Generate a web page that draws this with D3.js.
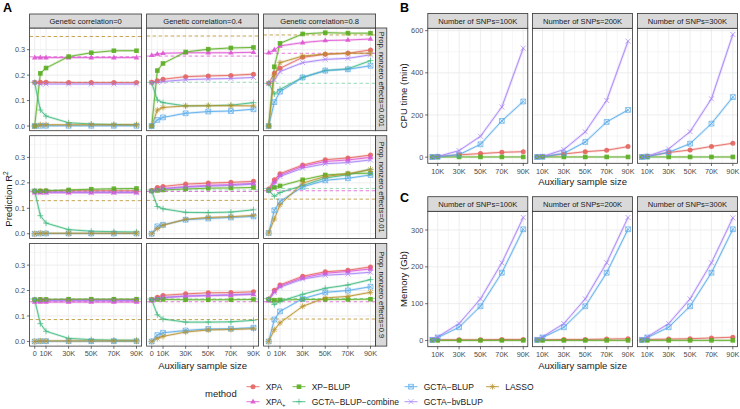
<!DOCTYPE html>
<html><head><meta charset="utf-8">
<script src="https://cdn.jsdelivr.net/npm/d3@7/dist/d3.min.js"></script>
<style>body{margin:0;background:#fff}svg{display:block;font-family:"Liberation Sans",Arial,Helvetica,sans-serif}</style>
</head><body><svg id="chart" width="740" height="409"></svg>
<script>
// ---------------- DATA ----------------
const methods = ["XPA", "XPA+", "XP\u2212BLUP", "GCTA\u2212BLUP\u2212combine", "GCTA\u2212BLUP", "GCTA\u2212bvBLUP", "LASSO"];
const geneticCorr = ["0", "0.4", "0.8"];
const propNonzero = ["0.001", "0.01", "0.9"];
const sampleSizesA = [0, 5000, 10000, 30000, 50000, 70000, 90000];
const xTicksA = [0, 10000, 30000, 50000, 70000, 90000];
const yTicksA = [0, 0.1, 0.2, 0.3];

// panel order: rows = propNonzero, cols = geneticCorr
const r2XPA = [
  [0.172,0.172,0.172,0.171,0.171,0.171,0.171],
  [0.172,0.178,0.184,0.194,0.197,0.199,0.204],
  [0.168,0.207,0.227,0.270,0.282,0.286,0.299],
  [0.168,0.168,0.168,0.169,0.169,0.169,0.169],
  [0.170,0.182,0.186,0.195,0.199,0.202,0.206],
  [0.176,0.212,0.236,0.270,0.291,0.298,0.309],
  [0.164,0.164,0.164,0.164,0.164,0.164,0.164],
  [0.164,0.174,0.181,0.187,0.191,0.192,0.195],
  [0.167,0.201,0.222,0.256,0.274,0.280,0.293]];
const r2XPAplus = [
  [0.269,0.269,0.269,0.269,0.269,0.269,0.269],
  [0.278,0.283,0.286,0.288,0.288,0.288,0.290],
  [0.288,0.299,0.315,0.328,0.336,0.338,0.342],
  [0.161,0.161,0.161,0.161,0.161,0.161,0.161],
  [0.168,0.175,0.178,0.185,0.190,0.193,0.198],
  [0.170,0.205,0.230,0.265,0.284,0.290,0.300],
  [0.155,0.155,0.155,0.155,0.155,0.155,0.155],
  [0.160,0.168,0.172,0.178,0.180,0.182,0.185],
  [0.160,0.196,0.218,0.250,0.268,0.275,0.285]];
const r2XPBLUP = [
  [0.000,0.207,0.228,0.273,0.288,0.296,0.296],
  [0.000,0.218,0.246,0.291,0.302,0.307,0.309],
  [0.000,0.233,0.325,0.362,0.367,0.365,0.365],
  [0.168,0.168,0.169,0.172,0.175,0.177,0.178],
  [0.168,0.170,0.172,0.176,0.179,0.180,0.182],
  [0.170,0.182,0.188,0.212,0.231,0.236,0.238],
  [0.164,0.165,0.165,0.166,0.166,0.166,0.166],
  [0.164,0.165,0.165,0.164,0.164,0.164,0.165],
  [0.165,0.162,0.163,0.165,0.165,0.165,0.166]];
const r2Combine = [
  [0.170,0.063,0.039,0.013,0.008,0.006,0.005],
  [0.170,0.102,0.092,0.079,0.080,0.082,0.092],
  [0.168,0.126,0.144,0.191,0.218,0.225,0.257],
  [0.168,0.071,0.042,0.016,0.010,0.008,0.007],
  [0.168,0.107,0.098,0.084,0.083,0.085,0.094],
  [0.170,0.147,0.162,0.189,0.219,0.232,0.254],
  [0.164,0.070,0.040,0.012,0.007,0.005,0.005],
  [0.164,0.105,0.088,0.076,0.076,0.077,0.083],
  [0.165,0.145,0.158,0.185,0.209,0.222,0.243]];
const r2GCTABLUP = [
  [0.000,0.001,0.001,0.001,0.001,0.001,0.001],
  [0.000,0.024,0.034,0.050,0.057,0.059,0.066],
  [0.000,0.094,0.135,0.191,0.218,0.223,0.237],
  [0.000,0.001,0.001,0.001,0.001,0.001,0.001],
  [0.000,0.029,0.035,0.055,0.060,0.064,0.068],
  [0.003,0.092,0.127,0.184,0.210,0.218,0.231],
  [0.000,0.001,0.001,0.001,0.001,0.001,0.001],
  [0.000,0.025,0.034,0.043,0.049,0.050,0.054],
  [0.000,0.086,0.118,0.168,0.193,0.200,0.215]];
const r2bvBLUP = [
  [0.170,0.165,0.165,0.165,0.165,0.165,0.165],
  [0.170,0.172,0.175,0.182,0.185,0.187,0.191],
  [0.168,0.181,0.214,0.249,0.262,0.266,0.280],
  [0.168,0.163,0.163,0.163,0.163,0.163,0.163],
  [0.168,0.172,0.176,0.183,0.187,0.190,0.195],
  [0.170,0.195,0.225,0.258,0.275,0.280,0.290],
  [0.164,0.161,0.161,0.161,0.161,0.161,0.161],
  [0.164,0.168,0.173,0.178,0.181,0.183,0.187],
  [0.165,0.192,0.213,0.245,0.260,0.265,0.272]];
const r2LASSO = [
  [0.000,0.005,0.005,0.005,0.005,0.005,0.005],
  [0.000,0.063,0.073,0.079,0.080,0.080,0.079],
  [0.000,0.200,0.249,0.275,0.283,0.286,0.286],
  [0.000,0.002,0.002,0.002,0.002,0.002,0.002],
  [0.000,0.020,0.033,0.057,0.064,0.067,0.072],
  [0.003,0.058,0.114,0.199,0.225,0.236,0.252],
  [0.000,0.002,0.002,0.002,0.002,0.002,0.002],
  [0.000,0.012,0.020,0.037,0.045,0.047,0.050],
  [0.000,0.046,0.073,0.138,0.171,0.177,0.193]];
// dashed reference lines
const refLASSO   = [0.352,0.354,0.358, 0.130,0.131,0.136, 0.086,0.086,0.088];
const refXPAplus = [0.272,0.275,0.286, 0.165,0.166,0.169, 0.156,0.156,0.156];
const refCombine = [0.172,0.172,0.168, 0.172,0.172,0.178, 0.167,0.167,0.169];

// B & C
const snpCounts = ["100K", "200K", "300K"];
const sampleSizesBC = [5000, 10000, 30000, 50000, 70000, 90000];
const xTicksBC = [10000, 30000, 50000, 70000, 90000];
const yTicksB = [0, 200, 400, 600];
const yTicksC = [0, 100, 200, 300];
const cpuXPA     = [[1,3,11,17,23,26],[2,3,15,26,33,50],[2,4,22,34,51,66]];
const cpuXPBLUP  = [[1,1,1,1,1,1],[1,1,1,1,1,1],[1,1,1,1,1,1]];
const cpuGCTABLUP= [[0.5,2,12,61,172,264],[0.5,2,18,72,167,224],[0.5,3,23,64,159,285]];
const cpuBvBLUP  = [[0.5,3,31,99,238,517],[0.5,3,36,120,269,550],[0.5,4,39,121,277,582]];
const memXPA     = [[2,2,2,2,3,3],[2,2,3,3,4,5],[2,3,4,5,7,9]];
const memXPBLUP  = [[0.5,0.5,0.5,0.5,0.5,0.5],[0.5,0.5,0.5,0.5,0.5,0.5],[0.5,0.5,0.5,0.5,0.5,0.5]];
const memGCTABLUP= [[2,8,36,93,184,302],[2,8,36,93,184,302],[2,8,36,93,184,302]];
const memBvBLUP  = [[3,10,46,113,211,334],[3,10,46,113,211,334],[3,10,46,113,211,333]];

// ---------------- STYLE ----------------
const methodColors = ["#E5655F", "#DE55D2", "#5BAE22", "#3FB97E", "#55AAEA", "#A57EF7", "#B8902A"];
const methodShapes = ["circle", "triangle", "square", "plus", "boxx", "cross", "asterisk"];

const svg = d3.select("#chart");
const TXT = "#4d4d4d", DARK = "#1a1a1a", BORDER = "#333333", GRID = "#ebebeb";
const fmtK = v => v === 0 ? "0" : (v / 1000) + "K";

function expand(lo, hi) { const d = (hi - lo) * 0.05; return [lo - d, hi + d]; }
function minors(major, dom) {
  const bd = major[1] - major[0];
  const b = major.slice();
  if (dom[0] < b[0]) b.unshift(b[0] - bd);
  if (dom[1] > b[b.length - 1]) b.push(b[b.length - 1] + bd);
  const out = [];
  for (let i = 0; i < b.length - 1; i++) { const m = (b[i] + b[i + 1]) / 2; if (m > dom[0] && m < dom[1]) out.push(m); }
  return out;
}

function drawShape(g, shape, x, y, color) {
  const sw = 0.75;
  if (shape === "circle") g.append("circle").attr("cx", x).attr("cy", y).attr("r", 2.5).attr("fill", color);
  else if (shape === "triangle") g.append("path").attr("d", `M${x},${y - 3.1}L${x + 2.8},${y + 1.8}L${x - 2.8},${y + 1.8}Z`).attr("fill", color);
  else if (shape === "square") g.append("rect").attr("x", x - 2.3).attr("y", y - 2.3).attr("width", 4.6).attr("height", 4.6).attr("fill", color);
  else if (shape === "plus") g.append("path").attr("d", `M${x - 3},${y}H${x + 3}M${x},${y - 3}V${y + 3}`).attr("stroke", color).attr("stroke-width", sw).attr("fill", "none");
  else if (shape === "boxx") g.append("path").attr("d", `M${x - 2.4},${y - 2.4}H${x + 2.4}V${y + 2.4}H${x - 2.4}ZM${x - 2.4},${y - 2.4}L${x + 2.4},${y + 2.4}M${x + 2.4},${y - 2.4}L${x - 2.4},${y + 2.4}`).attr("stroke", color).attr("stroke-width", sw).attr("fill", "none");
  else if (shape === "cross") g.append("path").attr("d", `M${x - 2.5},${y - 2.5}L${x + 2.5},${y + 2.5}M${x + 2.5},${y - 2.5}L${x - 2.5},${y + 2.5}`).attr("stroke", color).attr("stroke-width", sw).attr("fill", "none");
  else if (shape === "asterisk") g.append("path").attr("d", `M${x - 3},${y}H${x + 3}M${x},${y - 3}V${y + 3}M${x - 2.2},${y - 2.2}L${x + 2.2},${y + 2.2}M${x + 2.2},${y - 2.2}L${x - 2.2},${y + 2.2}`).attr("stroke", color).attr("stroke-width", sw).attr("fill", "none");
}

// generic panel
function drawPanel(opt) {
  const { x0, y0, w, h, xDom, yDom, xMaj, yMaj, series, refs, showX, showY, yFmt, xFmt } = opt;
  const xs = d3.scaleLinear().domain(xDom).range([x0, x0 + w]);
  const ys = d3.scaleLinear().domain(yDom).range([y0 + h, y0]);
  const g = svg.append("g");
  g.append("rect").attr("x", x0).attr("y", y0).attr("width", w).attr("height", h).attr("fill", "#fff");
  minors(xMaj, xDom).forEach(v => g.append("line").attr("x1", xs(v)).attr("x2", xs(v)).attr("y1", y0).attr("y2", y0 + h).attr("stroke", GRID).attr("stroke-width", 0.45));
  minors(yMaj, yDom).forEach(v => g.append("line").attr("y1", ys(v)).attr("y2", ys(v)).attr("x1", x0).attr("x2", x0 + w).attr("stroke", GRID).attr("stroke-width", 0.45));
  xMaj.forEach(v => g.append("line").attr("x1", xs(v)).attr("x2", xs(v)).attr("y1", y0).attr("y2", y0 + h).attr("stroke", GRID).attr("stroke-width", 0.9));
  yMaj.forEach(v => g.append("line").attr("y1", ys(v)).attr("y2", ys(v)).attr("x1", x0).attr("x2", x0 + w).attr("stroke", GRID).attr("stroke-width", 0.9));
  (refs || []).forEach(r => g.append("line").attr("x1", x0).attr("x2", x0 + w).attr("y1", ys(r.v)).attr("y2", ys(r.v))
      .attr("stroke", r.color).attr("stroke-width", 0.8).attr("stroke-dasharray", "3.5,2.5"));
  const line = d3.line().x(d => xs(d[0])).y(d => ys(d[1]));
  series.forEach(s => {
    g.append("path").datum(s.pts).attr("d", line).attr("fill", "none").attr("stroke", s.color).attr("stroke-width", 2.6).attr("stroke-opacity", 0.22);
    g.append("path").datum(s.pts).attr("d", line).attr("fill", "none").attr("stroke", s.color).attr("stroke-width", 0.85);
  });
  series.forEach(s => { const pg = g.append("g").attr("opacity", 0.9); s.pts.forEach(p => drawShape(pg, s.shape, xs(p[0]), ys(p[1]), s.color)); });
  g.append("rect").attr("x", x0).attr("y", y0).attr("width", w).attr("height", h).attr("fill", "none").attr("stroke", BORDER).attr("stroke-width", 0.8);
  if (showX) {
    xMaj.forEach(v => {
      g.append("line").attr("x1", xs(v)).attr("x2", xs(v)).attr("y1", y0 + h).attr("y2", y0 + h + 2.7).attr("stroke", BORDER).attr("stroke-width", 0.7);
      g.append("text").attr("x", xs(v)).attr("y", y0 + h + 10.3).attr("text-anchor", "middle").attr("font-size", 7.3).attr("fill", TXT).text(xFmt(v));
    });
  }
  if (showY) {
    yMaj.forEach(v => {
      g.append("line").attr("x1", x0 - 2.7).attr("x2", x0).attr("y1", ys(v)).attr("y2", ys(v)).attr("stroke", BORDER).attr("stroke-width", 0.7);
      g.append("text").attr("x", x0 - 4.5).attr("y", ys(v)).attr("dy", "0.35em").attr("text-anchor", "end").attr("font-size", 7.3).attr("fill", TXT).text(yFmt(v));
    });
  }
}
function stripTop(x, y, w, h, label) {
  svg.append("rect").attr("x", x).attr("y", y).attr("width", w).attr("height", h).attr("fill", "#d9d9d9").attr("stroke", BORDER).attr("stroke-width", 0.8);
  svg.append("text").attr("x", x + w / 2).attr("y", y + h / 2).attr("dy", "0.35em").attr("text-anchor", "middle").attr("font-size", 7.6).attr("fill", DARK).text(label);
}
function stripRight(x, y, w, h, label) {
  svg.append("rect").attr("x", x).attr("y", y).attr("width", w).attr("height", h).attr("fill", "#d9d9d9").attr("stroke", BORDER).attr("stroke-width", 0.8);
  svg.append("text").attr("transform", `translate(${x + w / 2},${y + h / 2}) rotate(90)`).attr("dy", "0.35em").attr("text-anchor", "middle").attr("font-size", 7.6).attr("fill", DARK).text(label);
}

// ---------------- PANEL A ----------------
const aLeft = [29.6, 146.6, 263.6], aW = 112;
const aTop = [28, 135.7, 243.4], aH = 102.7;
const aSeries = [r2XPA, r2XPAplus, r2XPBLUP, r2Combine, r2GCTABLUP, r2bvBLUP, r2LASSO];
const allA = aSeries.flat(2).concat(refLASSO, refXPAplus, refCombine);
const aYDom = expand(d3.min(allA), d3.max(allA));
const aXDom = expand(d3.min(sampleSizesA), d3.max(sampleSizesA));
for (let r = 0; r < 3; r++) for (let c = 0; c < 3; c++) {
  const k = r * 3 + c;
  drawPanel({
    x0: aLeft[c], y0: aTop[r], w: aW, h: aH, xDom: aXDom, yDom: aYDom, xMaj: xTicksA, yMaj: yTicksA,
    series: aSeries.map((arr, m) => ({ color: methodColors[m], shape: methodShapes[m], pts: sampleSizesA.map((x, i) => [x, arr[k][i]]) })),
    refs: [{ v: refCombine[k], color: "#7fcfa5" }, { v: refXPAplus[k], color: methodColors[1] }, { v: refLASSO[k], color: "#B8902A" }],
    showX: r === 2, showY: c === 0, yFmt: d3.format(".1f"), xFmt: fmtK
  });
}
geneticCorr.forEach((g, c) => stripTop(aLeft[c], 14, aW, 14, "Genetic correlation=" + g));
propNonzero.forEach((p, r) => stripRight(aLeft[2] + aW, aTop[r], 11.2, aH, "Prop. nonzero effects=" + p));

// ---------------- PANEL B & C ----------------
const bLeft = [427.8, 532.6, 637.4], bW = 100;
const bTop = 28.3, bH = 135, cTop = 211.3, cH = 135.4;
const bcX = expand(d3.min(sampleSizesBC), d3.max(sampleSizesBC));
const bcMethods = [0, 2, 4, 5];
const cpuSets = [cpuXPA, cpuXPBLUP, cpuGCTABLUP, cpuBvBLUP];
const memSets = [memXPA, memXPBLUP, memGCTABLUP, memBvBLUP];
const bYDom = expand(0, d3.max(cpuSets.flat(2)));
const cYDom = expand(0, d3.max(memSets.flat(2)));
const drawOrder = [0, 1, 2, 3];
for (let c = 0; c < 3; c++) {
  drawPanel({
    x0: bLeft[c], y0: bTop, w: bW, h: bH, xDom: bcX, yDom: bYDom, xMaj: xTicksBC, yMaj: yTicksB,
    series: drawOrder.map(j => ({ color: methodColors[bcMethods[j]], shape: methodShapes[bcMethods[j]], pts: sampleSizesBC.map((x, i) => [x, cpuSets[j][c][i]]) })),
    showX: true, showY: c === 0, yFmt: d3.format("d"), xFmt: fmtK
  });
  stripTop(bLeft[c], 13.5, bW, bTop - 13.5, "Number of SNPs=" + snpCounts[c]);
  drawPanel({
    x0: bLeft[c], y0: cTop, w: bW, h: cH, xDom: bcX, yDom: cYDom, xMaj: xTicksBC, yMaj: yTicksC,
    series: drawOrder.map(j => ({ color: methodColors[bcMethods[j]], shape: methodShapes[bcMethods[j]], pts: sampleSizesBC.map((x, i) => [x, memSets[j][c][i]]) })),
    showX: true, showY: c === 0, yFmt: d3.format("d"), xFmt: fmtK
  });
  stripTop(bLeft[c], 196.7, bW, cTop - 196.7, "Number of SNPs=" + snpCounts[c]);
}

// ---------------- TITLES ----------------
function title(x, y, txt, rot) {
  const t = svg.append("text").attr("font-size", 9.5).attr("fill", DARK).attr("text-anchor", "middle");
  if (rot) t.attr("transform", `translate(${x},${y}) rotate(-90)`); else t.attr("x", x).attr("y", y);
  return t.text(txt);
}
title((aLeft[0] + aLeft[2] + aW) / 2, 368.5, "Auxiliary sample size");
title((bLeft[0] + bLeft[2] + bW) / 2, 185.2, "Auxiliary sample size");
title((bLeft[0] + bLeft[2] + bW) / 2, 368.5, "Auxiliary sample size");
const pr = svg.append("text").attr("font-size", 9.5).attr("fill", DARK).attr("text-anchor", "middle")
  .attr("transform", `translate(11.5,199) rotate(-90)`);
pr.append("tspan").text("Prediction R");
pr.append("tspan").attr("font-size", 6.6).attr("dy", -3.8).text("2");
title(407, (bTop + bTop + bH) / 2, "CPU time (min)", true);
title(407, (cTop + cTop + cH) / 2, "Memory (Gb)", true);
[["A", 3, 12], ["B", 400, 12], ["C", 400, 201.5]].forEach(([l, x, y]) =>
  svg.append("text").attr("x", x).attr("y", y).attr("font-size", 12.5).attr("font-weight", "bold").attr("fill", "#000").text(l));

// ---------------- LEGEND ----------------
svg.append("text").attr("x", 205).attr("y", 397.3).attr("font-size", 9.5).attr("fill", DARK).text("method");
const legCols = [253, 299, 411, 492.5], legRows = [386.7, 401.7];
methods.forEach((m, i) => {
  const cx = legCols[Math.floor(i / 2)], cy = legRows[i % 2];
  const col = methodColors[i];
  svg.append("line").attr("x1", cx - 6.5).attr("x2", cx + 6.5).attr("y1", cy).attr("y2", cy).attr("stroke", col).attr("stroke-width", 0.85);
  drawShape(svg.append("g").attr("opacity", 0.9), methodShapes[i], cx, cy, col);
  const t = svg.append("text").attr("x", cx + 12.7).attr("y", cy).attr("dy", "0.35em").attr("font-size", 8.5).attr("fill", DARK);
  if (m === "XPA+") { t.append("tspan").text("XPA"); t.append("tspan").attr("font-size", 6).attr("dy", 2.2).text("+"); }
  else t.text(m);
});
</script></body></html>
